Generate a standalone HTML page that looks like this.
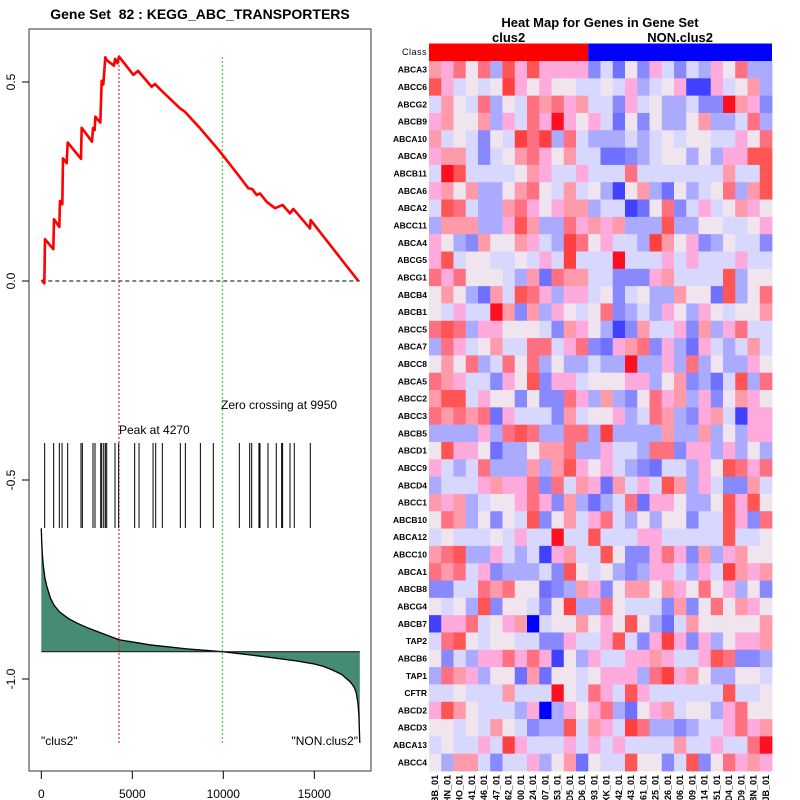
<!DOCTYPE html>
<html><head><meta charset="utf-8"><style>
html,body{margin:0;padding:0;background:#fff;}
svg{display:block;font-family:"Liberation Sans",Arial,sans-serif;}
</style></head><body>
<svg id="c" width="800" height="800" viewBox="0 0 800 800"></svg>
<script>
// ---- data ----
const esRanks = [20,167,203,661,698,991,1027,1156,1192,1394,1449,2181,2218,2786,2841,2932,2969,3243,3317,3408,3518,3592,3995,4050,4178,4269,5057,5313,6064,6247,6522,7621,7896,8720,9819,10826,11375,11595,11833,12016,12383,12841,13262,13665,13848,14763,14800,17420];
const esValues = [0.0025,-0.006,0.105,0.08,0.155,0.136,0.201,0.193,0.308,0.296,0.348,0.307,0.385,0.35,0.384,0.379,0.413,0.398,0.503,0.494,0.562,0.555,0.541,0.558,0.547,0.564,0.518,0.528,0.488,0.495,0.482,0.434,0.425,0.384,0.325,0.266,0.233,0.231,0.216,0.22,0.199,0.183,0.191,0.17,0.181,0.132,0.153,0.0];
const hitRanks = [185,680,990,1140,1450,2180,2255,2840,2950,3265,3320,3430,3520,3595,4050,4250,5130,5370,6140,6285,6650,7640,7915,8740,9450,10880,11450,11560,11960,12015,12455,12910,13205,13260,13665,13900,14780];
const metricRanks = [0,20,50,100,200,300,500,700,1000,1500,2000,2500,3000,4270,6000,8000,9950,12000,14000,15000,15500,16000,16500,17000,17200,17300,17400,17450,17500];
const metricValues = [0.31,0.28,0.25,0.22,0.185,0.165,0.135,0.117,0.1,0.083,0.071,0.061,0.052,0.03,0.017,0.007,0,-0.011,-0.023,-0.031,-0.037,-0.046,-0.057,-0.077,-0.09,-0.103,-0.13,-0.16,-0.229];
const xTicks = [0,5000,10000,15000];
const yTicks = [0.5,0.0,-0.5,-1.0];
const peakRank = 4270, zeroRank = 9950;
const genes = ["ABCA3","ABCC6","ABCG2","ABCB9","ABCA10","ABCA9","ABCB11","ABCA6","ABCA2","ABCC11","ABCA4","ABCG5","ABCG1","ABCB4","ABCB1","ABCC5","ABCA7","ABCC8","ABCA5","ABCC2","ABCC3","ABCB5","ABCD1","ABCC9","ABCD4","ABCC1","ABCB10","ABCA12","ABCC10","ABCA1","ABCB8","ABCG4","ABCB7","TAP2","ABCB6","TAP1","CFTR","ABCD2","ABCD3","ABCA13","ABCC4"];
const samples = ["BB_01","HN_01","HO_01","041_01","046_01","047_01","062_01","000_01","324_01","307_01","353_01","ID5_01","ID6_01","593_01","XK_01","042_01","043_01","061_01","325_01","326_01","306_01","309_01","914_01","351_01","ID4_01","ID9_01","68N_01","JB_01"];
const nClus2 = 13;
const heatRows = [
"8796","a756","5865","7866","8565","7885","5ca5","7868","5a95","4888","7643","7a56","9796","6864","6575","9a94","4975","6869","9875","8aa5","9898","4444","6a77","7545","4555","8784","6984","5655","89a4","9895","3355","6564","1779","59a6","6354","4987","5565","7a86","6656","5655","6488"];
const heatRest = [
"94a7a77773526375354769 44","56b76766556574567117 5684","94659897855375644533c873","84759 7c767526364468445 94","365b9b4954445456566557 69","35689768552234566464 77aa","5556875575559555555 5855a","446896585641684264 56948a","44897678845512693575 6876","447a84497878444a446655 67","8668754b967554b86734 6553","6556575b555c55575755 5755","66548298855333785555 a466","285a97477563564486 62a469","5c838476569345476476 5668","77666538764138557384 7955","68559957932789374275 4585","45969464454 4c4474946 4476","53 76a3775666774683425a49","76636339748436978473 6876","92755538566745984378 5177","749a944994b44448448 46477","62446889447554993774 7464","94448 48a76754325547 6a979","78779395872857 5a8475 3385","56679738424592776446 a7a6","6365a3685795464663 55a739","565755c55a5557755555 a556","4754517855a63379 7384 7866","7344453a65643477547 5b878","98966234873688687696 7463","a366536b44965553836 96876","56780566867 6a64258666668","56655337557a537b7374 6778","77979716475577875 57a9334","46628266567774 9b78644665","55855 5c659 75a7555555a5565","55547047679426785664 7966","58653 44a5875b94434557978","75b75557575755558557559c","53557468 2655a6635a369787"];
const hmPalette = ["#0000ff","#4040ff","#7070ff","#8888ff","#aaaaff","#d8d8ff","#f0e4ee","#ffaadd","#ff9aaa","#ff7080","#ff5555","#ff4040","#ff1020"];

// ---- helpers ----
const NS="http://www.w3.org/2000/svg";
const svg=document.getElementById('c');
function mk(tag,attrs,parent){const e=document.createElementNS(NS,tag);for(const k in attrs)e.setAttribute(k,attrs[k]);(parent||svg).appendChild(e);return e;}
const X0=41.3, XS=0.0182;
const xs=r=>X0+r*XS;
const ys=v=>281-v*398;
const BASE=651.7;
const ym=v=>BASE-v*398;

// ---- left panel ----
let t=mk('text',{x:200,y:19,'text-anchor':'middle','font-size':14,'font-weight':'bold'});
t.textContent="Gene Set \u00a082 : KEGG_ABC_TRANSPORTERS";



let fr=mk('rect',{x:29,y:29,width:342,height:742,fill:'none',stroke:'#555','stroke-width':1.2});



// metric fill
let md='M'+xs(metricRanks[0])+','+BASE;
metricRanks.forEach((r,i)=>{md+=' L'+xs(r).toFixed(2)+','+ym(metricValues[i]).toFixed(2);});
md+=' L'+xs(metricRanks[metricRanks.length-1])+','+BASE+' Z';
let mf=mk('path',{d:md,fill:'#468b73',stroke:'none'});


let ml='M'+metricRanks.map((r,i)=>xs(r).toFixed(2)+','+ym(metricValues[i]).toFixed(2)).join(' L');
let mline=mk('path',{d:ml,fill:'none',stroke:'#000','stroke-width':1.3});


let bl=mk('line',{x1:xs(0),x2:xs(17500),y1:BASE,y2:BASE,stroke:'#222','stroke-width':1.2});



// zero dashed
let zl=mk('line',{x1:xs(0),x2:xs(17500),y1:ys(0),y2:ys(0),stroke:'#000','stroke-dasharray':'4,3','stroke-width':1});



// vertical lines
let pl=mk('line',{x1:xs(peakRank),x2:xs(peakRank),y1:57,y2:745,stroke:'#ff0000','stroke-dasharray':'2,2','stroke-width':1});


let zc=mk('line',{x1:xs(zeroRank),x2:xs(zeroRank),y1:57,y2:745,stroke:'#66cc66','stroke-dasharray':'2,2','stroke-width':1.4});



// hits
hitRanks.forEach(r=>{
  const h=mk('line',{x1:xs(r),x2:xs(r),y1:443,y2:528,stroke:'#000','stroke-width':1});
  
  
});

// ES line
let ed='M'+esRanks.map((r,i)=>xs(r).toFixed(2)+','+ys(esValues[i]).toFixed(2)).join(' L');
let el=mk('path',{d:ed,fill:'none',stroke:'#ff0000','stroke-width':2.6,'stroke-linejoin':'round'});



// annotations
function txt(x,y,s,name,extra){const e=mk('text',Object.assign({x:x,y:y,'font-size':12},extra||{}));e.textContent=s;return e;}
txt(119,434,"Peak at 4270","peak-label");
txt(221,409,"Zero crossing at 9950","zero-crossing-label");
txt(41,745,"\"clus2\"","clus2-label");
txt(358,745,"\"NON.clus2\"","non-clus2-label",{'text-anchor':'end'});

// axes
xTicks.forEach(v=>{
  const l=mk('line',{x1:xs(v),x2:xs(v),y1:771,y2:779,stroke:'#000'});
  
  
  txt(xs(v),798,String(v),'x-tick-label',{'text-anchor':'middle'});
});
yTicks.forEach(v=>{
  const l=mk('line',{x1:22,x2:29,y1:ys(v),y2:ys(v),stroke:'#000'});
  
  
  txt(15,ys(v),v.toFixed(1),'y-tick-label',{'text-anchor':'middle',transform:'rotate(-90 15 '+ys(v)+')'});
});

// ---- heatmap ----
const HX=429, HW=(772-429)/samples.length, HY=61, HH=(771-61)/genes.length;
txt(600,27,"Heat Map for Genes in Gene Set","heatmap-title",{'text-anchor':'middle','font-size':13,'font-weight':'bold'});
txt(HX+HW*nClus2/2,42,"clus2","class-clus2-label",{'text-anchor':'middle','font-size':13,'font-weight':'bold'});
txt(HX+HW*(nClus2+samples.length)/2,42,"NON.clus2","class-non-clus2-label",{'text-anchor':'middle','font-size':13,'font-weight':'bold'});
let cb1=mk('rect',{x:HX,y:43.5,width:HW*nClus2,height:17.5,fill:'#ff0000'});


let cb2=mk('rect',{x:HX+HW*nClus2,y:43.5,width:HW*(samples.length-nClus2),height:17.5,fill:'#0000ff'});


txt(427,55,"Class","class-row-label",{'text-anchor':'end','font-size':9,'letter-spacing':'0.5'});

genes.forEach((g,i)=>{
  let s=(heatRows[i]+heatRest[i]).replace(/\s/g,'');
  while(s.length<samples.length)s+='5';
  for(let j=0;j<samples.length;j++){
    const lv=parseInt(s[j],16);
    const r=mk('rect',{x:(HX+j*HW).toFixed(2),y:(HY+i*HH).toFixed(2),width:(HW+0.4).toFixed(2),height:(HH+0.4).toFixed(2),fill:hmPalette[lv]});
    
    
  }
  txt(427,HY+i*HH+HH/2+3,g,'gene-label',{'text-anchor':'end','font-size':8.5,'font-weight':'bold'});
});
samples.forEach((s,j)=>{
  const cx=HX+j*HW+HW/2+3;
  txt(cx,775,s,'sample-label',{'text-anchor':'end','font-size':9,'font-weight':'bold',transform:'rotate(-90 '+cx+' 775)'});
});
</script>
</body></html>
